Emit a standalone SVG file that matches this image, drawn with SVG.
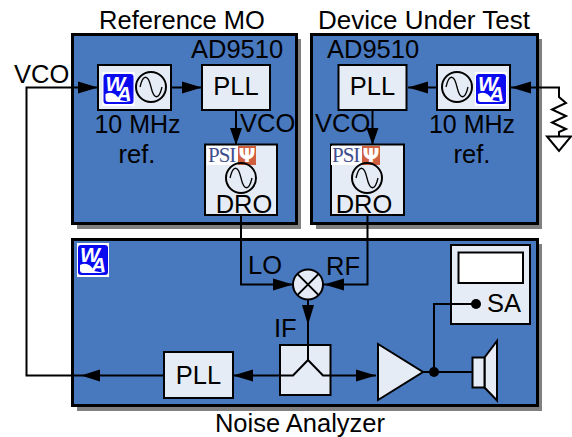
<svg xmlns="http://www.w3.org/2000/svg" width="572" height="437" viewBox="0 0 572 437">
<style>
text{font-family:"Liberation Sans",Arial,sans-serif;font-size:25.500px;fill:#000}
.c{text-anchor:middle}
.sh{fill:#808080}
.blk{fill:#4878BE;stroke:#000;stroke-width:3}
.bx{fill:#E6ECF6;stroke:#000;stroke-width:2}
.ln{fill:none;stroke:#000;stroke-width:2}
.ar{fill:#000}
.lg{font-family:"Liberation Sans",Arial,sans-serif;font-weight:bold;font-style:italic;font-size:21px;fill:#fff;letter-spacing:-2px}
.ps{font-family:"Liberation Serif",serif;font-size:21px;fill:#3F4E90;letter-spacing:-1px}
.tr{font-family:"DejaVu Sans",sans-serif;font-weight:bold;font-size:20px;fill:#fff;text-anchor:middle}
.m{font-size:25px}
</style>
<defs>
<g id="wa">
<rect x="0" y="0" width="32" height="34" fill="#fff"/>
<rect x="1" y="2" width="30" height="30" rx="3" fill="#0A0AF0"/>
<path d="M3 22Q12 18 17 28L28 30H6Q3 30 3 27Z" fill="#fff"/>
<text class="lg" x="3" y="19">W</text>
<text class="lg" x="14" y="29">A</text>
</g>
<g id="osc">
<circle cx="0" cy="0" r="15" fill="none" stroke="#000" stroke-width="2"/>
<path d="M-11 0C-8 -13 -3 -13 0 0S8 13 11 0" fill="none" stroke="#000" stroke-width="1.300"/>
</g>
<g id="psi">
<rect x="0" y="0" width="31" height="19" fill="#fff"/>
<rect x="31" y="0" width="18" height="19" fill="#CF5F3E"/>
<text class="ps" x="1" y="16">PSI</text>
<text class="tr" x="40" y="16">Ψ</text>
</g>
</defs>

<g id="title-ref"><text class="c" x="182" y="29">Reference MO</text></g>
<g id="title-dut"><text class="c" x="424" y="29" style="font-size:26px">Device Under Test</text></g>
<g id="title-na"><text class="c" x="300" y="432">Noise Analyzer</text></g>

<g id="block-ref">
<rect class="sh" x="77" y="39" width="224" height="190"/>
<rect class="blk" x="72.500" y="34.500" width="224" height="189"/>
<text x="191" y="58">AD9510</text>
</g>
<g id="block-dut">
<rect class="sh" x="316" y="39" width="226" height="190"/>
<rect class="blk" x="311.500" y="34.500" width="226" height="189"/>
<text x="327" y="58">AD9510</text>
</g>
<g id="block-na">
<rect class="sh" x="77" y="244" width="465" height="167"/>
<rect class="blk" x="72.500" y="239.500" width="465" height="166"/>
<use href="#wa" x="77" y="243"/>
</g>

<g id="connectors">
<path class="ln" d="M98 87.500H26.500V375.500H164"/>
<path class="ln" d="M171 87.500H202"/>
<path class="ln" d="M236 110V145"/>
<path class="ln" d="M241 215V284.500H293"/>
<path class="ln" d="M367.500 215V284.500H324"/>
<path class="ln" d="M437 87.500H408"/>
<path class="ln" d="M372.500 110V145"/>
<path class="ln" d="M510 87.500H559V97L566 103L552 109.500L566 116L552 122.500L566 129L559 132V137"/>
<path class="ln" d="M308 300V345"/>
<path class="ln" d="M233 375.500H280"/>
<path class="ln" d="M330 375.500H376"/>
<path class="ln" d="M423 372H472"/>
<path class="ln" d="M434 372V304H476"/>
<polygon class="ar" points="98,87.500 78,81.500 78,93.500"/>
<polygon class="ar" points="202,87.500 182,81.500 182,93.500"/>
<polygon class="ar" points="236,145 230,128 242,128"/>
<polygon class="ar" points="293,284.500 273,278.500 273,290.500"/>
<polygon class="ar" points="324,284.500 344,278.500 344,290.500"/>
<polygon class="ar" points="408,87.500 428,81.500 428,93.500"/>
<polygon class="ar" points="372.500,145 366.500,128 378.500,128"/>
<polygon class="ar" points="511,87.500 531,81.500 531,93.500"/>
<polygon class="ar" points="308,325 302,305 314,305"/>
<polygon class="ar" points="81,375.500 100,369.500 100,381.500"/>
<polygon class="ar" points="233,375.500 253,369.500 253,381.500"/>
<polygon class="ar" points="376,375.500 356,369.500 356,381.500"/>
</g>

<g id="gnd"><polygon points="547,136.500 571,136.500 559,151" fill="#fff" stroke="#000" stroke-width="2"/></g>

<g id="osc-ref">
<rect class="bx" x="98" y="65" width="73" height="45"/>
<use href="#wa" x="102.500" y="72"/>
<use href="#osc" x="151" y="87"/>
<text class="c m" x="137.500" y="133">10 MHz</text>
<text class="c" x="137" y="163">ref.</text>
</g>
<g id="pll-ref"><rect class="bx" x="202" y="65" width="68" height="45"/><text class="c" x="236" y="95">PLL</text></g>
<g id="dro-ref">
<rect class="bx" x="205" y="144.500" width="72" height="70.500"/>
<use href="#psi" x="207" y="146"/>
<use href="#osc" x="241" y="178"/>
<text class="c" x="244" y="213">DRO</text>
</g>
<g id="osc-dut">
<rect class="bx" x="437" y="65" width="73" height="45"/>
<use href="#osc" x="457" y="87"/>
<use href="#wa" x="475" y="72"/>
<text class="c m" x="472" y="133">10 MHz</text>
<text class="c" x="472" y="163">ref.</text>
</g>
<g id="pll-dut"><rect class="bx" x="338.500" y="65" width="68" height="45"/><text class="c" x="372.500" y="95">PLL</text></g>
<g id="dro-dut">
<rect class="bx" x="331" y="144.500" width="73" height="70.500"/>
<use href="#psi" x="331" y="146"/>
<use href="#osc" x="367" y="178"/>
<text class="c" x="364" y="213">DRO</text>
</g>

<g id="mixer">
<circle class="bx" cx="308" cy="284.500" r="15"/>
<path class="ln" d="M297.400 273.900L318.600 295.100M297.400 295.100L318.600 273.900"/>
</g>
<g id="splitter">
<rect class="bx" x="280" y="345" width="50.500" height="50"/>
<path class="ln" d="M308 345V360L293 375.500H280M308 360L323 375.500H330.500"/>
</g>
<g id="pll-na"><rect class="bx" x="164" y="352" width="69" height="46"/><text class="c" x="198.500" y="384">PLL</text></g>
<g id="amp"><polygon class="bx" points="378,344 378,400 423,372"/></g>
<g id="junction"><circle cx="434" cy="372" r="5" fill="#000"/></g>
<g id="speaker">
<polygon class="bx" points="484.500,357.500 497,341 497,400.500 484.500,387.500"/>
<rect class="bx" x="472.500" y="357.500" width="12" height="30"/>
</g>
<g id="sa">
<rect class="bx" x="451" y="245" width="79" height="79"/>
<rect x="458.500" y="252.500" width="64.500" height="30.500" fill="#fff" stroke="#000" stroke-width="2"/>
<path class="ln" d="M434 304H476"/>
<circle cx="476" cy="304" r="5" fill="#000"/>
<text x="487" y="312">SA</text>
</g>

<g id="labels">
<text x="14" y="83">VCO</text>
<text x="240" y="132">VCO</text>
<text x="315" y="132">VCO</text>
<text x="248" y="274">LO</text>
<text x="326" y="275">RF</text>
<text x="274" y="337">IF</text>
</g>
</svg>
